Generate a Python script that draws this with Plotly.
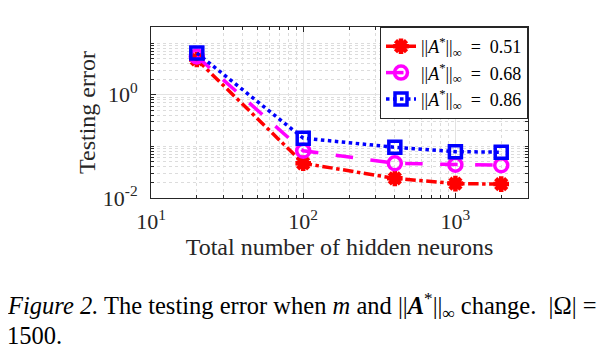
import plotly.graph_objects as go

neurons = [20, 100, 400, 1000, 2000]
err_051 = [4.8, 0.047, 0.024, 0.019, 0.0186]
err_068 = [5.5, 0.082, 0.047, 0.044, 0.043]
err_086 = [6.4, 0.144, 0.096, 0.079, 0.077]
labels = ["||<i>A</i><sup>*</sup>||<sub>∞</sub>  =  0.51",
          "||<i>A</i><sup>*</sup>||<sub>∞</sub>  =  0.68",
          "||<i>A</i><sup>*</sup>||<sub>∞</sub>  =  0.86"]
x_tickvals = [10, 100, 1000]
x_ticktext = ["10<sup>1</sup>", "10<sup>2</sup>", "10<sup>3</sup>"]
y_tickvals = [0.01, 1]
y_ticktext = ["10<sup>-2</sup>", "10<sup>0</sup>"]

FONT = "Liberation Serif"
TXT = "#262626"
fig = go.Figure()
fig.add_trace(go.Scatter(x=neurons, y=err_051, name=labels[0], mode="lines+markers",
    line=dict(color="#ff0000", width=3.5, dash="dashdot"),
    marker=dict(symbol="asterisk-open", size=13, color="#ff0000", line=dict(color="#ff0000", width=4.5))))
fig.add_trace(go.Scatter(x=neurons, y=err_068, name=labels[1], mode="lines+markers",
    line=dict(color="#ff00ff", width=3.5, dash="longdash"),
    marker=dict(symbol="circle-open", size=13, color="#ff00ff", line=dict(color="#ff00ff", width=3.5))))
fig.add_trace(go.Scatter(x=neurons, y=err_086, name=labels[2], mode="lines+markers",
    line=dict(color="#0000ff", width=3.5, dash="dot"),
    marker=dict(symbol="square-open", size=12, color="#0000ff", line=dict(color="#0000ff", width=3.5))))

axis_common = dict(type="log", showline=True, mirror="allticks", linecolor=TXT, linewidth=1,
                   ticks="inside", ticklen=5, tickcolor=TXT, automargin=False,
                   showgrid=True, gridcolor="#e3e3e3", gridwidth=1, zeroline=False,
                   tickfont=dict(family=FONT, size=22, color=TXT),
                   minor=dict(showgrid=True, gridcolor="#dcdcdc", griddash="dot",
                              ticks="inside", ticklen=3, tickcolor=TXT, dtick="D1"))

fig.update_xaxes(range=[1, 3.477], tickvals=x_tickvals, ticktext=x_ticktext, ticklabelstandoff=4,
                 title=dict(text="Total number of hidden neurons", font=dict(family=FONT, size=24, color=TXT), standoff=0),
                 **axis_common)
fig.update_yaxes(range=[-2, 1.31], tickvals=y_tickvals, ticktext=y_ticktext, ticklabelstandoff=8,
                 title=dict(text="Testing error", font=dict(family=FONT, size=24, color=TXT), standoff=0),
                 **axis_common)

fig.update_layout(
    width=607, height=356,
    margin=dict(l=143, r=87, t=19, b=166, autoexpand=False),
    paper_bgcolor="white", plot_bgcolor="white",
    showlegend=True,
    legend=dict(x=1, y=1, xanchor="right", yanchor="top", bgcolor="white",
                bordercolor=TXT, borderwidth=1, itemwidth=30,
                font=dict(family=FONT, size=18, color="black"), tracegroupgap=0),
    annotations=[
        dict(text="<i>Figure 2.</i> The testing error when <i>m</i> and ||<b><i>A</i></b><sup>*</sup>||<sub>∞</sub> change.  |Ω| =",
             xref="paper", yref="paper", x=-146/377, y=-(306-198)/171, xanchor="left", yanchor="middle",
             showarrow=False, font=dict(family=FONT, size=24.5, color="black")),
        dict(text="1500.", xref="paper", yref="paper", x=-146/377, y=-(335-198)/171,
             xanchor="left", yanchor="middle", showarrow=False,
             font=dict(family=FONT, size=24.5, color="black")),
    ],
)

fig.write_html("out.html")
